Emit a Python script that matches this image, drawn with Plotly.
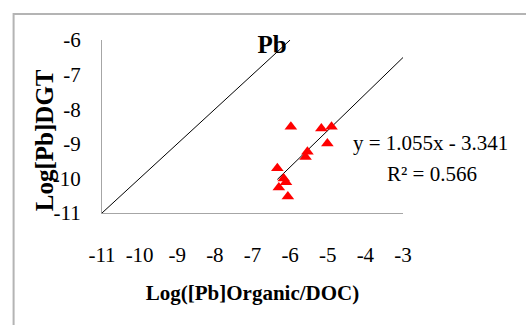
import plotly.graph_objects as go

# Pb: DGT-measured concentration vs. organic-complexed Pb normalised to DOC (log units)
log_pb_org_doc = [-5.98, -5.17, -4.90, -5.01, -5.54, -5.59, -6.34, -6.17, -6.11, -6.30, -6.06]
log_pb_dgt = [-8.51, -8.56, -8.51, -8.99, -9.23, -9.38, -9.71, -10.00, -10.11, -10.26, -10.52]

# linear trendline reported on the chart
slope = 1.055
intercept = -3.341
r_squared = 0.566

x_ticks = [-11, -10, -9, -8, -7, -6, -5, -4, -3]
y_ticks = [-11, -10, -9, -8, -7, -6]
x_tick_text = [f"-{abs(v)}" for v in x_ticks]
y_tick_text = [f"-{abs(v)}" for v in y_ticks]

FONT = "Liberation Serif"
AXIS_GREY = "#a6a6a6"

fit_x = [min(log_pb_org_doc), x_ticks[-1]]
fit_y = [slope * v + intercept for v in fit_x]

fig = go.Figure()

# 1:1 reference line
fig.add_trace(go.Scatter(
    x=[y_ticks[0], y_ticks[-1]], y=[y_ticks[0], y_ticks[-1]],
    mode="lines", line=dict(color="black", width=1), hoverinfo="skip",
))

# fitted regression line
fig.add_trace(go.Scatter(
    x=fit_x, y=fit_y, mode="lines",
    line=dict(color="black", width=1), hoverinfo="skip",
))

fig.add_trace(go.Scatter(
    x=log_pb_org_doc, y=log_pb_dgt, mode="markers",
    marker=dict(symbol="triangle-up", size=11, color="#ff0000", line=dict(width=0)),
))

fig.add_annotation(
    x=1.09, y=0.404, xref="paper", yref="paper", xanchor="center", yanchor="middle",
    text=f"y = {slope:.3f}x - {abs(intercept):.3f}", showarrow=False,
    font=dict(family=FONT, size=21, color="black"),
)
fig.add_annotation(
    x=1.095, y=0.224, xref="paper", yref="paper", xanchor="center", yanchor="middle",
    text=f"R² = {r_squared:.3f}", showarrow=False,
    font=dict(family=FONT, size=21, color="black"),
)

# vertical axis title, placed slightly below the axis midpoint
fig.add_annotation(
    x=-0.19, y=0.42, xref="paper", yref="paper", xanchor="center", yanchor="middle",
    text="<b>Log[Pb]DGT</b>", textangle=-90, showarrow=False,
    font=dict(family=FONT, size=25, color="black"),
)

# outer chart frame
fig.add_shape(
    type="rect", xref="paper", yref="paper",
    x0=-0.2937, x1=1.5, y0=-0.8, y1=1.1506,
    line=dict(color="#b4b4b4", width=2), fillcolor="rgba(0,0,0,0)", layer="below",
)

fig.update_layout(
    width=526, height=325,
    margin=dict(l=102, r=123, t=40, b=112),
    paper_bgcolor="white", plot_bgcolor="white",
    showlegend=False,
    font=dict(family=FONT, size=21, color="black"),
    title=dict(
        text="<b>Pb</b>", x=(272 - 102) / 301, xref="paper", xanchor="center",
        y=1 - 44 / 325, yanchor="middle",
        font=dict(family=FONT, size=25, color="black"),
    ),
    xaxis=dict(
        range=[x_ticks[0], x_ticks[-1]], tickvals=x_ticks, ticktext=x_tick_text,
        showgrid=False, zeroline=False, showline=True,
        linecolor=AXIS_GREY, linewidth=1, ticks="",
        ticklabelstandoff=23,
        title=dict(text="<b>Log([Pb]Organic/DOC)</b>", standoff=19,
                   font=dict(family=FONT, size=21)),
    ),
    yaxis=dict(
        range=[y_ticks[0], y_ticks[-1]], tickvals=y_ticks, ticktext=y_tick_text,
        showgrid=False, zeroline=False, showline=True,
        linecolor=AXIS_GREY, linewidth=1, ticks="",
        ticklabelstandoff=16,
    ),
)

fig.write_html("out.html")
